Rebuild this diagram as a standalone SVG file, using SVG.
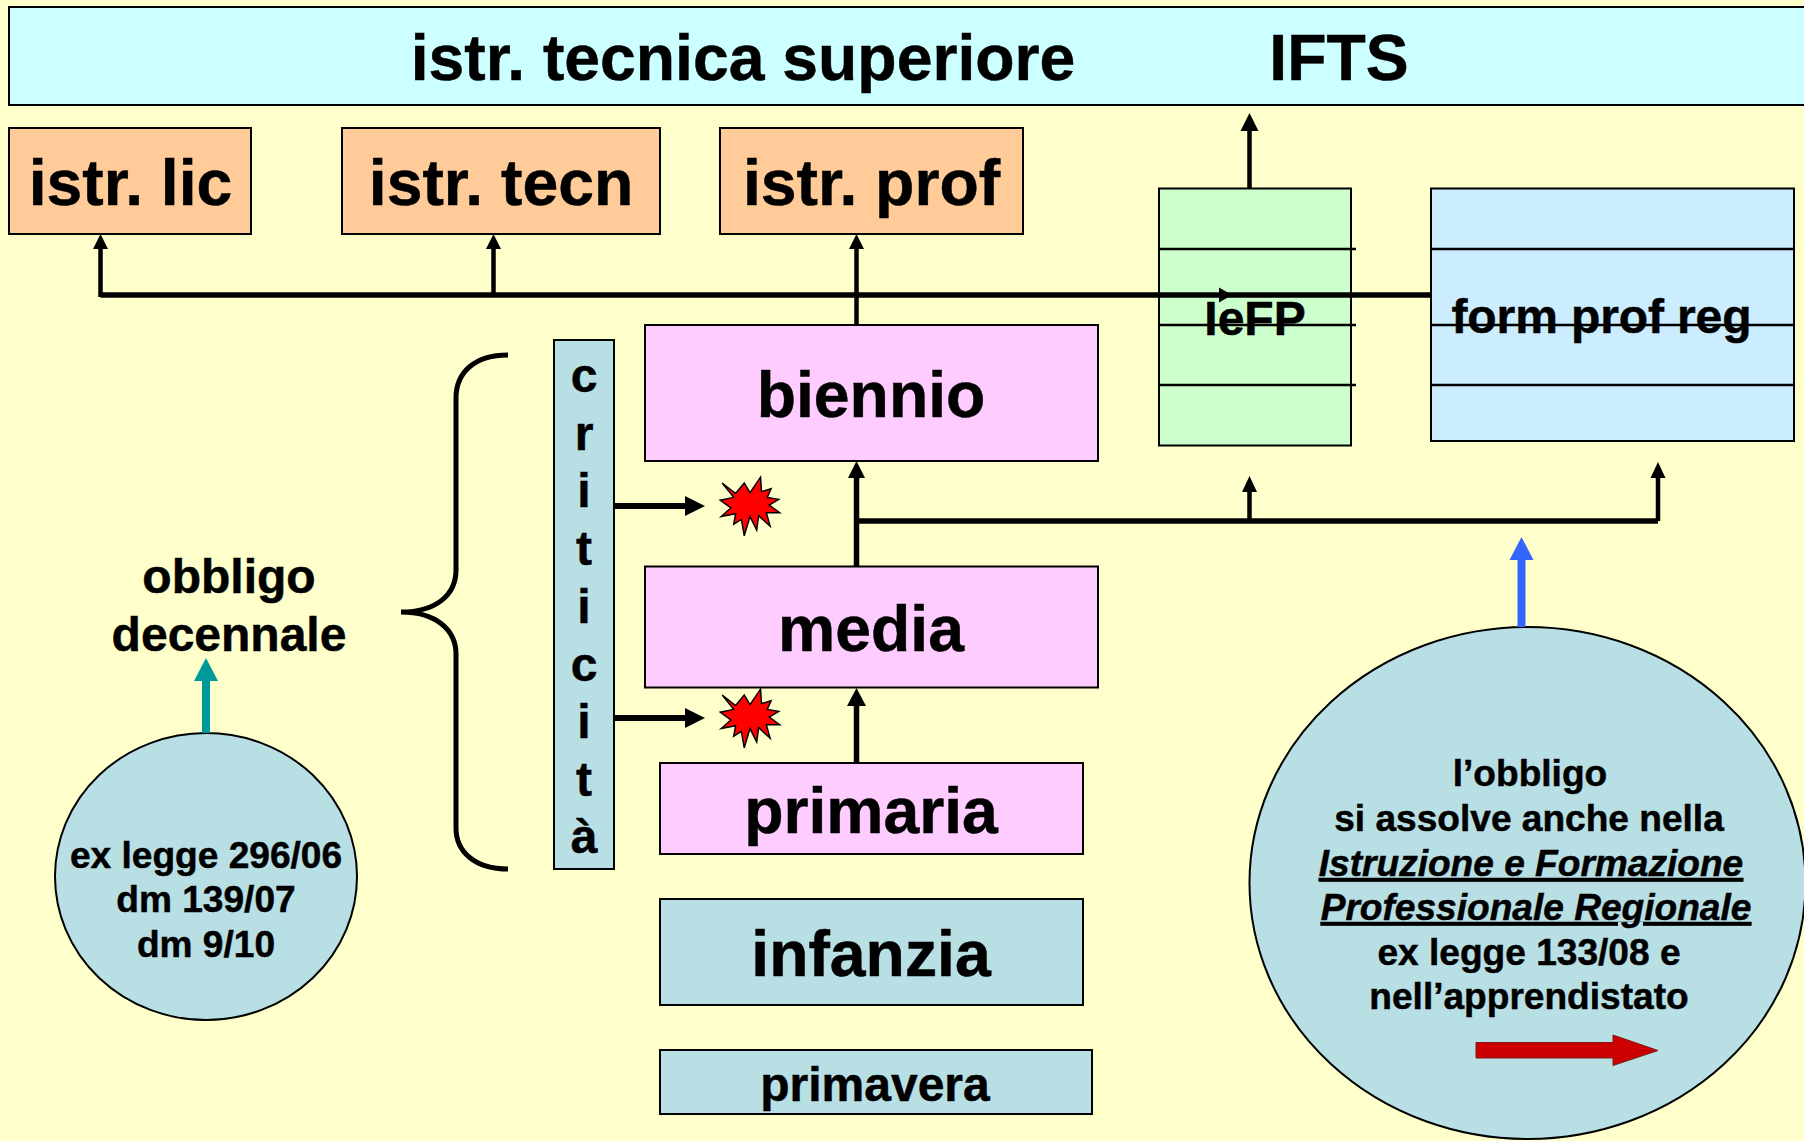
<svg xmlns="http://www.w3.org/2000/svg" xmlns:xlink="http://www.w3.org/1999/xlink" width="1804" height="1141" viewBox="0 0 1804 1141">
<style>
text{font-family:"Liberation Sans",Arial,sans-serif;font-weight:700;fill:#000;stroke:#000;stroke-width:.5;text-anchor:middle}
.b{stroke:#000;stroke-width:2}
.t64{font-size:64.300px}.t48{font-size:48px}.t37{font-size:37.100px}
.sky{fill:#CCFFFF}.org{fill:#FFCC99}.pnk{fill:#FFCCFF}.grn{fill:#CCFFCC}.blu{fill:#CCECFF}.tea{fill:#B8DFE4}
.sep{stroke:#000;stroke-width:2.5;fill:none}
.w5{stroke:#000;stroke-width:5.5;fill:none}
.w4{stroke:#000;stroke-width:4.500;fill:none}
.h{fill:#000}
.ul{text-decoration:underline;font-style:italic}
</style>
<defs>
<polygon id="star" fill="#FF0000" stroke="#000" stroke-width="1.500" transform="translate(750 506) scale(.96) translate(-750 -506)" points="721,482 735,493 744,482 750,492 761,476 762,491 772,488 768,497 780,499 770,505 781,513 767,513 771,527 759,516 757,531 750,517 744,537 741,520 733,525 735,514 720,517 730,508 719,500 733,497"/>
</defs>
<rect id="bg" width="1804" height="1141" fill="#FFFFCC"/>

<g id="node-top"><rect class="b sky" x="9" y="7" width="1800" height="98"/>
<text class="t64" x="743" y="80">istr. tecnica superiore</text><text class="t64" x="1339" y="80">IFTS</text></g>
<g id="node-lic"><rect class="b org" x="9" y="128" width="242" height="106"/><text class="t64" x="130.500" y="204.500">istr. lic</text></g>
<g id="node-tecn"><rect class="b org" x="342" y="128" width="318" height="106"/><text class="t64" x="501" y="204.500">istr. tecn</text></g>
<g id="node-prof"><rect class="b org" x="720" y="128" width="303" height="106"/><text class="t64" x="871.500" y="204.500">istr. prof</text></g>

<g id="node-iefp"><rect class="b grn" x="1159" y="188.500" width="192" height="257"/>
<path class="sep" d="M1159 249H1356M1159 325H1356M1159 385H1356"/>
<text class="t48" x="1255" y="334.500">IeFP</text></g>
<g id="node-form"><rect class="b blu" x="1431" y="188.500" width="363" height="252.500"/>
<path class="sep" d="M1431 249H1794M1431 325H1794M1431 385H1794"/>
<text class="t48" x="1601.500" y="333" textLength="300" lengthAdjust="spacing">form prof reg</text></g>

<g id="node-biennio"><rect class="b pnk" x="645" y="325" width="453" height="136"/><text class="t64" x="871" y="416.500">biennio</text></g>
<g id="node-media"><rect class="b pnk" x="645" y="566.500" width="453" height="121"/><text class="t64" x="871" y="650.500">media</text></g>
<g id="node-primaria"><rect class="b pnk" x="660" y="763" width="423" height="91"/><text class="t64" x="871" y="833">primaria</text></g>
<g id="node-infanzia"><rect class="b tea" x="660" y="899" width="423" height="106"/><text class="t64" x="871" y="976">infanzia</text></g>
<g id="node-primavera"><rect class="b tea" x="660" y="1050" width="432" height="64"/><text class="t48" x="875" y="1101">primavera</text></g>

<g id="node-criticita"><rect class="b tea" x="554" y="340" width="60" height="529"/>
<text class="t48" x="584" y="392">c</text><text class="t48" x="584" y="450">r</text><text class="t48" x="584" y="507">i</text><text class="t48" x="584" y="565">t</text><text class="t48" x="584" y="623">i</text><text class="t48" x="584" y="681">c</text><text class="t48" x="584" y="738">i</text><text class="t48" x="584" y="796">t</text><text class="t48" x="584" y="853">à</text></g>

<g id="node-brace"><path fill="none" stroke="#000" stroke-width="5" d="M508 355C475 355 456 372 456 398V570C456 595 436 612 401 612C436 612 456 630 456 654V828C456 852 475 869 508 869"/></g>
<g id="node-obbligo"><text class="t48" x="229" y="593">obbligo</text><text class="t48" x="229" y="651">decennale</text></g>

<g id="node-legge"><ellipse class="b tea" cx="206" cy="876.500" rx="151" ry="143.500"/>
<text class="t37" x="206" y="868">ex legge 296/06</text><text class="t37" x="206" y="912">dm 139/07</text><text class="t37" x="206" y="957">dm 9/10</text></g>

<g id="node-apprendistato"><ellipse class="b tea" cx="1527.500" cy="883" rx="278" ry="256"/>
<text class="t37" x="1530" y="786">l’obbligo</text><text class="t37" x="1529" y="831">si assolve anche nella</text>
<text class="t37 ul" x="1531" y="876">Istruzione e Formazione</text><text class="t37 ul" x="1536" y="920">Professionale Regionale</text>
<text class="t37" x="1529" y="965">ex legge 133/08 e</text><text class="t37" x="1529" y="1009">nell’apprendistato</text>
<polygon fill="#CC0000" stroke="#7a1a1a" stroke-width="1" points="1476,1042.500 1613,1042.500 1613,1035 1658,1050.500 1613,1065.500 1613,1058 1476,1058"/></g>

<g id="node-star1"><use href="#star"/></g>
<g id="node-star2"><use href="#star" y="212"/></g>

<g id="connectors">
<path class="w5" d="M100.500 295H1431"/>
<path class="w4" d="M100.500 297V248M493.500 295V248M856.500 325V248M1249.500 188V128M1249.500 521V490M1658 521V476"/>
<path class="w5" d="M856.500 521H1658"/>
<path class="w5" d="M856.500 567V476M856.500 763V706"/>
<path class="h" d="M100.500 234l-7.500 15h15zM493.500 234l-7.500 15h15zM856.500 234l-7.500 15h15zM1249.500 113l-9 18h18zM1249.500 476l-7.500 16h15zM1658 462l-7.500 16h15zM856.500 461l-8.500 17h17zM856.500 688l-9.500 18h19zM1232 295l-13-7.500v15z"/>
<path stroke="#000" stroke-width="6" d="M614 506H688M614 718H688"/>
<path class="h" d="M705 506l-20-10v20zM705 718l-20-10v20z"/>
<path stroke="#009999" stroke-width="8" d="M206 733V680"/><path fill="#009999" d="M206 658l-12 23h24z"/>
<path stroke="#3366FF" stroke-width="8" d="M1521.500 627V559"/><path fill="#3366FF" d="M1521.500 537l-12 23h24z"/>
</g>
</svg>
